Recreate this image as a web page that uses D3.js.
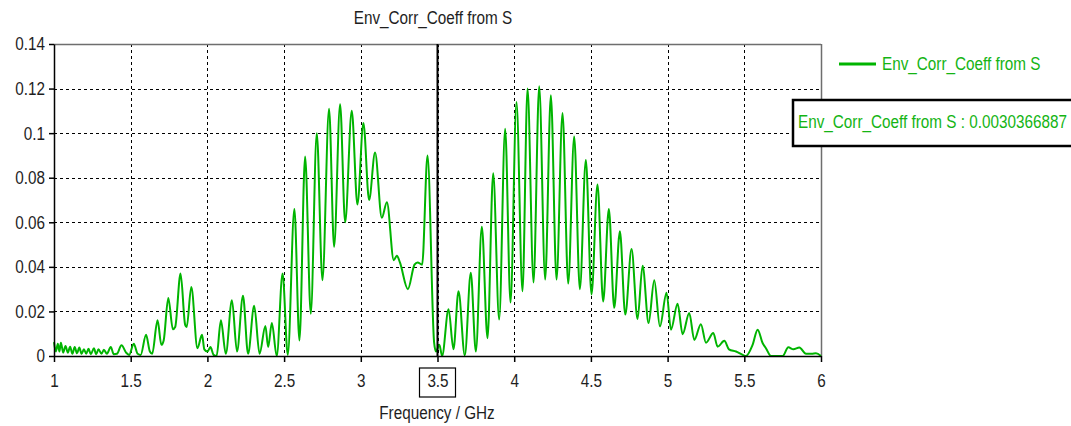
<!DOCTYPE html>
<html><head><meta charset="utf-8">
<script src="https://cdn.jsdelivr.net/npm/d3@7"></script>
<style>body{margin:0;background:#fff} text{font-family:"Liberation Sans",Arial,sans-serif}</style>
</head><body><svg id="c" width="1071" height="426"></svg>
<script>
const title = "Env_Corr_Coeff from S";
const xLabel = "Frequency / GHz";
const seriesName = "Env_Corr_Coeff from S";
const markerFreq = 3.5;
const markerValueText = "0.0030366887";
const xTicks = [1, 1.5, 2, 2.5, 3, 3.5, 4, 4.5, 5, 5.5, 6];
const yTicks = [0, 0.02, 0.04, 0.06, 0.08, 0.1, 0.12, 0.14];
const freqs = [
  1.000,1.012,1.025,1.035,1.045,1.060,1.075,1.090,1.105,1.120,
  1.135,1.150,1.165,1.180,1.195,1.210,1.225,1.240,1.260,1.275,
  1.290,1.310,1.325,1.345,1.370,1.390,1.410,1.440,1.470,1.490,
  1.520,1.545,1.565,1.600,1.625,1.640,1.675,1.700,1.715,1.745,
  1.775,1.790,1.825,1.855,1.865,1.895,1.935,1.965,1.980,2.000,
  2.020,2.040,2.060,2.088,2.120,2.160,2.193,2.232,2.265,2.305,
  2.340,2.378,2.396,2.420,2.452,2.490,2.524,2.567,2.600,2.637,
  2.674,2.713,2.750,2.793,2.826,2.865,2.898,2.941,2.978,3.017,
  3.054,3.093,3.137,3.170,3.215,3.235,3.255,3.307,3.350,3.370,
  3.400,3.435,3.478,3.490,3.512,3.530,3.572,3.604,3.637,3.678,
  3.717,3.750,3.789,3.826,3.863,3.902,3.941,3.976,4.015,4.054,
  4.087,4.126,4.163,4.202,4.239,4.276,4.315,4.352,4.391,4.428,
  4.467,4.504,4.543,4.580,4.617,4.652,4.689,4.724,4.765,4.804,
  4.837,4.876,4.913,4.950,4.993,5.022,5.065,5.098,5.141,5.174,
  5.217,5.250,5.298,5.326,5.370,5.400,5.446,5.490,5.510,5.554,
  5.587,5.620,5.641,5.674,5.750,5.787,5.820,5.859,5.902,5.940,
  5.967,6.000
];
const coeffs = [
  0.0062,0.0020,0.0055,0.0020,0.0060,0.0015,0.0045,0.0015,0.0042,0.0010,
  0.0040,0.0012,0.0038,0.0010,0.0030,0.0010,0.0032,0.0008,0.0035,0.0008,
  0.0030,0.0010,0.0028,0.0010,0.0040,0.0008,0.0010,0.0048,0.0015,0.0005,
  0.0055,0.0010,0.0005,0.0095,0.0020,0.0010,0.0160,0.0050,0.0070,0.0260,
  0.0120,0.0130,0.0370,0.0140,0.0130,0.0310,0.0035,0.0095,0.0030,0.0020,
  0.0040,0.0005,0.0000,0.0160,0.0010,0.0250,0.0020,0.0270,0.0010,0.0225,
  0.0010,0.0135,0.0040,0.0148,0.0000,0.0370,0.0005,0.0660,0.0070,0.0895,
  0.0190,0.1000,0.0340,0.1110,0.0490,0.1130,0.0600,0.1100,0.0680,0.1045,
  0.0700,0.0913,0.0620,0.0690,0.0430,0.0450,0.0420,0.0300,0.0410,0.0420,
  0.0410,0.0900,0.0060,0.0020,0.0050,0.0000,0.0210,0.0030,0.0290,0.0003,
  0.0373,0.0020,0.0580,0.0080,0.0820,0.0164,0.1020,0.0240,0.1140,0.0290,
  0.1200,0.0330,0.1210,0.0343,0.1170,0.0343,0.1090,0.0325,0.0985,0.0300,
  0.0880,0.0276,0.0770,0.0245,0.0660,0.0216,0.0560,0.0186,0.0480,0.0166,
  0.0405,0.0148,0.0340,0.0133,0.0284,0.0118,0.0235,0.0098,0.0193,0.0072,
  0.0143,0.0060,0.0103,0.0042,0.0068,0.0030,0.0020,0.0005,0.0000,0.0050,
  0.0118,0.0057,0.0035,0.0000,0.0000,0.0039,0.0030,0.0038,0.0010,0.0010,
  0.0012,0.0000
];

const svg = d3.select("#c");
const m = {l:54, r:821, t:44, b:356};
const x = d3.scaleLinear().domain([1, 6]).range([m.l, m.r]);
const y = d3.scaleLinear().domain([0, 0.14]).range([m.b, m.t]);
const green = "#00b400";
const textGreen = "#14b414";
const ink = "#1e1e1e";
const fs = "15.3px";
const tall = 1.2;

svg.append("rect").attr("width",1071).attr("height",426).attr("fill","#fff");

// grid
const grid = svg.append("g").attr("stroke","#000").attr("stroke-width",1).attr("stroke-dasharray","3,3").attr("shape-rendering","crispEdges");
grid.selectAll("line.v").data(xTicks.filter(d => d > 1 && d < 6)).join("line")
  .attr("x1", d => Math.round(x(d)) + 0.5).attr("x2", d => Math.round(x(d)) + 0.5)
  .attr("y1", m.t).attr("y2", m.b);
grid.selectAll("line.h").data(yTicks.filter(d => d > 0 && d < 0.14)).join("line")
  .attr("y1", d => Math.round(y(d)) + 0.5).attr("y2", d => Math.round(y(d)) + 0.5)
  .attr("x1", m.l).attr("x2", m.r);

// frame top/right
svg.append("line").attr("x1",m.l).attr("x2",m.r).attr("y1",m.t+0.5).attr("y2",m.t+0.5).attr("stroke","#6e6e6e").attr("stroke-width",1.5);
svg.append("line").attr("x1",m.r+0.5).attr("x2",m.r+0.5).attr("y1",m.t).attr("y2",m.b).attr("stroke","#6e6e6e").attr("stroke-width",1.5);

// curve
const pts = freqs.map((f, i) => [f, coeffs[i]]);
const line = d3.line().x(d => x(d[0])).y(d => y(d[1])).curve(d3.curveMonotoneX);
svg.append("path").datum(pts).attr("d", line).attr("fill","none").attr("stroke",green).attr("stroke-width",2).attr("stroke-linejoin","round");

// marker line
svg.append("line").attr("x1",x(markerFreq)).attr("x2",x(markerFreq)).attr("y1",m.t).attr("y2",m.b).attr("stroke","#000").attr("stroke-width",2);

// axes
const fmt = d => String(d);
const ax = svg.append("g").attr("transform",`translate(0,${m.b})`)
  .call(d3.axisBottom(x).tickValues(xTicks).tickFormat(fmt).tickSize(6).tickSizeOuter(0).tickPadding(12));
const ay = svg.append("g").attr("transform",`translate(${m.l},0)`)
  .call(d3.axisLeft(y).tickValues(yTicks).tickFormat(fmt).tickSize(5).tickSizeOuter(0).tickPadding(4));
[ax, ay].forEach(g => {
  g.selectAll("path,line").attr("stroke","#000").attr("stroke-width",1.5);
  g.selectAll("text").attr("fill",ink).style("font-size",fs);
});

// boxed marker tick label
svg.append("rect").attr("x", x(markerFreq) - 18).attr("y", 368).attr("width", 36).attr("height", 29)
  .attr("fill","none").attr("stroke","#000").attr("stroke-width",1.2);

// titles
svg.append("text").attr("x",433).attr("y",18).attr("text-anchor","middle").attr("dominant-baseline","central")
  .attr("fill",ink).style("font-size",fs).text(title);
svg.append("text").attr("x",437).attr("y",413).attr("text-anchor","middle").attr("dominant-baseline","central")
  .attr("fill",ink).style("font-size",fs).text(xLabel);

// legend
svg.append("line").attr("x1",839).attr("x2",876).attr("y1",64).attr("y2",64).attr("stroke",green).attr("stroke-width",3);
svg.append("text").attr("x",882).attr("y",64).attr("dominant-baseline","central")
  .attr("fill",textGreen).style("font-size",fs).text(seriesName);

// marker value box
svg.append("rect").attr("x",793).attr("y",100).attr("width",290).attr("height",46)
  .attr("fill","#fff").attr("stroke","#000").attr("stroke-width",2.5);
svg.append("text").attr("x",798).attr("y",122).attr("dominant-baseline","central")
  .attr("fill",textGreen).style("font-size",fs).text(`${seriesName} : ${markerValueText}`);

// tall, narrow lettering like the original: stretch glyphs vertically about their own position
svg.selectAll("text").each(function() {
  const t = d3.select(this);
  const y0 = +(t.attr("y") || 0);
  t.attr("y", y0 / tall).attr("transform", `scale(1,${tall})`);
});
</script></body></html>
